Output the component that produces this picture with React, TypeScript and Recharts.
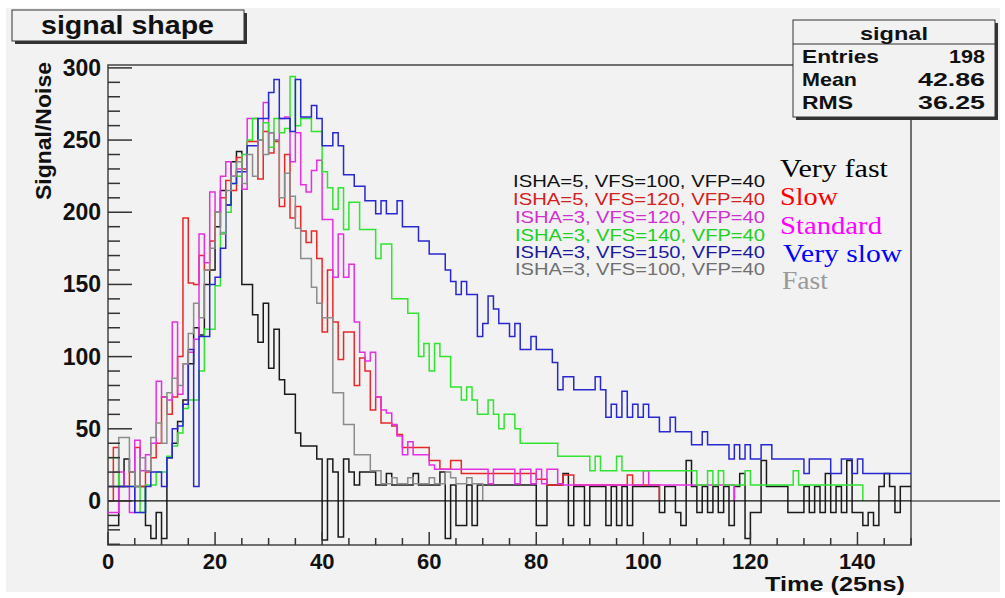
import React from "react";
import {
  ComposedChart,
  Line,
  XAxis,
  YAxis,
  ReferenceArea,
  ReferenceLine,
} from "recharts";

// bin edges of the time axis (25 ns samples)
const binEdges = [
  0, 1, 2, 3, 4, 5, 6, 7, 8, 9, 10, 11, 12, 13, 14, 15, 16, 17, 18, 19, 20, 21, 22, 23, 24, 25, 26, 27, 28, 29,
  30, 31, 32, 33, 34, 35, 36, 37, 38, 39, 40, 41, 42, 43, 44, 45, 46, 47, 48, 49, 50, 51, 52, 53, 54, 55, 56, 57, 58, 59,
  60, 61, 62, 63, 64, 65, 66, 67, 68, 69, 70, 71, 72, 73, 74, 75, 76, 77, 78, 79, 80, 81, 82, 83, 84, 85, 86, 87, 88, 89,
  90, 91, 92, 93, 94, 95, 96, 97, 98, 99, 100, 101, 102, 103, 104, 105, 106, 107, 108, 109, 110, 111, 112, 113, 114, 115, 116, 117, 118, 119,
  120, 121, 122, 123, 124, 125, 126, 127, 128, 129, 130, 131, 132, 133, 134, 135, 136, 137, 138, 139, 140, 141, 142, 143, 144, 145, 146, 147, 148, 149, 150,
];

// Very fast: ISHA=5, VFS=100, VFP=40
const veryFast = [
  -17, -17, 10, 29, 20, 10, 10, -17, -26, -8, -26, 30, 40, 55, 70, 95, 120, 115, 150, 160,
  190, 215, 205, 235, 242, 150, 150, 129, 110, 137, 92, 119, 84, 74, 74, 47, 38, 38, 38, 29,
  -27, 29, 20, -25, 29, 20, 11, 20, 20, 20, 11, 11, 19, 11, 11, 11, 11, 19, 11, 11,
  11, 11, 20, -26, 11, -17, -17, 11, -17, 11, 11, 11, 11, 11, 11, 11, 11, 11, 11, 11,
  -17, -17, 11, 11, 11, 19, -17, 10, 10, -17, 10, 10, 10, -17, 10, -17, 10, -17, 10, 10,
  10, 10, 10, -8, 10, 10, -8, -17, 28, 10, -8, 10, -8, 10, -8, 10, -17, 10, 19, -26,
  -8, -8, 28, 10, 10, 10, 10, -8, -8, -8, 10, -8, 10, -8, 19, -8, 10, -8, 28, -8,
  -8, -17, -8, -17, 10, 19, 10, -8, 10, 10,
];

// Slow: ISHA=5, VFS=120, VFP=40
const slow = [
  0, 37, 10, 10, 20, 37, 10, 20, 30, 40, 72, 60, 72, 100, 196, 151, 150, 170, 160, 180,
  200, 210, 222, 215, 238, 230, 249, 249, 223, 256, 241, 249, 204, 240, 196, 204, 187, 179, 187, 168,
  117, 160, 124, 98, 117, 117, 80, 99, 90, 63, 72, 54, 54, 52, 46, 37, 37, 37, 37, 37,
  28, 28, 22, 22, 28, 28, 19, 19, 19, 19, 19, 19, 19, 19, 19, 19, 19, 19, 19, 19,
  15, 15, 11, 11, 11, 18, 18, 11, 11, 11, 11, 11, 11, 11, 11, 11, 11, 18, 11, 11,
  11, 11, 11,
];

// Standard: ISHA=3, VFS=120, VFP=40
const standard = [
  -8, -8, 20, 10, -8, 42, 21, 32, 40, 83, 72, 70, 124, 74, 95, 103, 112, 185, 165, 214,
  200, 225, 235, 225, 230, 216, 265, 265, 250, 276, 255, 250, 265, 266, 235, 255, 219, 214, 229, 236,
  195, 195, 155, 185, 155, 164, 124, 103, 97, 103, 72, 63, 61, 53, 45, 32, 41, 32, 32, 32,
  25, 22, 22, 22, 22, 22, 22, 22, 22, 22, 22, 12, 22, 22, 22, 22, 12, 22, 22, 12,
  22, 12, 22, 22, 12, 11, 11, 11, 11, 11, 11, 11, 11, 11, 11, 11, 11, 11, 11, 11,
  21, 11, 11, 11, 11, 11, 11, 11, 11, 11, 11, 11, 11, 11, 11, 11, 11,
];

// ISHA=3, VFS=140, VFP=40 (green)
const vfs140 = [
  30, 30, 10, 10, 10, 10, -8, 11, 11, 20, 20, 31, 38, 47, 64, 70, 70, 90, 119, 119,
  149, 186, 200, 220, 225, 240, 250, 265, 250, 262, 245, 265, 255, 258, 294, 260, 265, 265, 256, 256,
  228, 217, 202, 217, 188, 207, 207, 188, 188, 188, 168, 178, 178, 140, 140, 140, 130, 130, 100, 109,
  90, 109, 100, 100, 79, 79, 70, 79, 70, 60, 60, 70, 60, 50, 60, 60, 50, 40, 40, 40,
  40, 40, 40, 40, 31, 31, 31, 31, 31, 31, 21, 31, 21, 21, 21, 31, 21, 21, 21, 21,
  21, 21, 21, 21, 21, 21, 21, 21, 21, 21, 11, 11, 21, 11, 21, 11, 11, 11, 11, 21,
  11, 11, 11, 11, 11, 11, 11, 11, 21, 11, 11, 11, 11, 11, 11, 11, 11, 11, 11, 11,
  11,
];

// Very slow: ISHA=3, VFS=150, VFP=40
const verySlow = [
  10, 10, 10, 10, 10, -8, -8, 10, 20, 20, 10, 30, 50, 52, 67, 105, 10, 114, 114, 150,
  155, 175, 205, 220, 228, 228, 246, 246, 265, 265, 283, 292, 265, 265, 256, 292, 266, 266, 274, 265,
  246, 246, 255, 246, 226, 226, 218, 218, 208, 208, 199, 208, 199, 199, 208, 190, 190, 190, 180, 180,
  171, 171, 171, 160, 152, 143, 152, 143, 143, 114, 123, 142, 133, 123, 123, 114, 123, 105, 105, 114,
  105, 105, 105, 96, 77, 86, 86, 77, 77, 77, 77, 86, 77, 58, 67, 58, 76, 58, 67, 58,
  67, 58, 58, 48, 48, 58, 48, 48, 48, 39, 39, 48, 39, 39, 39, 39, 29, 39, 29, 39,
  29, 29, 39, 39, 29, 29, 29, 29, 29, 29, 19, 29, 29, 29, 29, 19, 19, 29, 29, 19,
  29, 19, 19, 19, 19, 19, 19, 19, 19, 19,
];

// Fast: ISHA=3, VFS=100, VFP=40
const fast = [
  10, 20, 44, 44, 20, 10, 30, 21, 44, 54, 40, 75, 85, 80, 95, 116, 137, 127, 160, 175,
  200, 185, 215, 225, 235, 220, 240, 225, 250, 240, 255, 250, 210, 227, 211, 189, 168, 168, 148, 137,
  127, 127, 75, 75, 53, 53, 32, 32, 32, 21, 21, 12, 12, 16, 12, 12, 16, 12, 12, 12,
  16, 12, 12, 20, 16, 12, 12, 16, 12, 12,
];

const seriesKeys = ["veryFast", "slow", "standard", "vfs140", "verySlow", "fast"];
const seriesValues = [veryFast, slow, standard, vfs140, verySlow, fast];
const seriesColors = ["#1a1a1a", "#e82828", "#e430e4", "#30e430", "#2828d0", "#8c8c8c"];

const legendLines = [
  "ISHA=5, VFS=100, VFP=40",
  "ISHA=5, VFS=120, VFP=40",
  "ISHA=3, VFS=120, VFP=40",
  "ISHA=3, VFS=140, VFP=40",
  "ISHA=3, VFS=150, VFP=40",
  "ISHA=3, VFS=100, VFP=40",
];
const legendColors = ["#111111", "#d42020", "#d030d0", "#20d020", "#1a1aa0", "#707070"];
const speedNames = ["Very fast", "Slow", "Standard", "Very slow", "Fast"];
const speedColors = ["#000000", "#ff0000", "#ff00ff", "#0000ff", "#999999"];

const statLabels = ["Entries", "Mean", "RMS"];
const statValues = ["198", "42.86", "36.25"];

const xTicks = [0, 5, 10, 15, 20, 25, 30, 35, 40, 45, 50, 55, 60, 65, 70, 75, 80, 85, 90, 95, 100, 105, 110, 115, 120, 125, 130, 135, 140, 145, 150];
const xLabels = [0, 20, 40, 60, 80, 100, 120, 140];
const yTicks = [-30, -20, -10, 0, 10, 20, 30, 40, 50, 60, 70, 80, 90, 100, 110, 120, 130, 140, 150, 160, 170, 180, 190, 200, 210, 220, 230, 240, 250, 260, 270, 280, 290, 300];
const yLabels = [0, 50, 100, 150, 200, 250, 300];

// each histogram closes down to zero after its last bin
const data = binEdges.map((x) => {
  const row: Record<string, number | null> = { x };
  seriesKeys.forEach((key, i) => {
    const vals = seriesValues[i];
    if (x < vals.length) row[key] = vals[x];
    else if (x === vals.length) row[key] = vals.length >= 150 ? vals[vals.length - 1] : 0;
    else row[key] = null;
  });
  return row;
});

const SANS = "'Liberation Sans', Arial, Helvetica, sans-serif";
const SERIF = "'Liberation Serif', 'Times New Roman', serif";

const XTick = (props: any) => {
  const { x, y, payload } = props;
  const v = payload.value;
  const major = xLabels.includes(v);
  return (
    <g>
      <line x1={x} y1={y} x2={x} y2={y - (major ? 13 : 7)} stroke="#333" strokeWidth={1.5} />
      {major && (
        <text
          x={x}
          y={y + 24}
          textAnchor="middle"
          fontFamily={SANS}
          fontWeight="bold"
          fontSize={22}
          fill="#111"
        >
          {v}
        </text>
      )}
    </g>
  );
};

const YTick = (props: any) => {
  const { x, y, payload } = props;
  const v = payload.value;
  const major = yLabels.includes(v);
  return (
    <g>
      <line x1={x} y1={y} x2={x + (major ? 24 : 12)} y2={y} stroke="#333" strokeWidth={1.5} />
      {major && (
        <text
          x={x - 7}
          y={y + 8}
          textAnchor="end"
          fontFamily={SANS}
          fontWeight="bold"
          fontSize={23}
          fill="#111"
        >
          {v}
        </text>
      )}
    </g>
  );
};

export default function App() {
  return (
    <div style={{ position: "absolute", left: 0, top: 0, width: 1005, height: 598, background: "#fff" }}>
      <div style={{ position: "absolute", left: 6, top: 8, width: 994, height: 584, background: "#f2f2f2" }} />
      <div style={{ position: "absolute", left: 0, top: 0 }}>
        <ComposedChart
          width={1005}
          height={598}
          data={data}
          margin={{ top: 65, right: 94, bottom: 0, left: 48 }}
        >
          <XAxis
            type="number"
            dataKey="x"
            domain={[0, 150]}
            ticks={xTicks}
            interval={0}
            allowDataOverflow
            height={53}
            tickSize={0}
            tickMargin={0}
            axisLine={false}
            tickLine={false}
            tick={<XTick />}
          />
          <YAxis
            type="number"
            domain={[-30.5, 302]}
            ticks={yTicks}
            interval={0}
            allowDataOverflow
            width={60}
            tickSize={0}
            tickMargin={0}
            axisLine={false}
            tickLine={false}
            tick={<YTick />}
          />
          <ReferenceArea x1={0} x2={150} y1={-30.5} y2={302} fill="none" stroke="#444" strokeWidth={1.5} />
          {seriesKeys.map((key, i) => (
            <Line
              key={key}
              type="stepAfter"
              dataKey={key}
              stroke={seriesColors[i]}
              strokeWidth={1.5}
              dot={false}
              activeDot={false}
              connectNulls={false}
              isAnimationActive={false}
            />
          ))}
          <ReferenceLine y={0} ifOverflow="visible" stroke="#111" strokeWidth={1.2} />
        </ComposedChart>
      </div>
      <svg width={1005} height={598} style={{ position: "absolute", left: 0, top: 0, pointerEvents: "none" }}>
        {/* the zero line runs on past the frame to the pad edge */}
        <line x1={911} y1={501} x2={1000} y2={501} stroke="#111" strokeWidth={1.2} />

        {/* title box */}
        <rect x={15} y={13} width={232} height={31} fill="#333" />
        <rect x={12} y={10} width={232} height={31} fill="#f2f2f2" stroke="#333" strokeWidth={1} />
        <text x={41} y={34} fontFamily={SANS} fontWeight="bold" fontSize={25} fill="#111" textLength={173} lengthAdjust="spacingAndGlyphs">
          signal shape
        </text>

        {/* stats box */}
        <rect x={796} y={23} width={202} height={97} fill="#333" />
        <rect x={793} y={20} width={202} height={97} fill="#f2f2f2" stroke="#333" strokeWidth={1} />
        <line x1={793} y1={44} x2={995} y2={44} stroke="#333" strokeWidth={1} />
        <text x={894} y={40} textAnchor="middle" fontFamily={SANS} fontWeight="bold" fontSize={19} fill="#111" textLength={68} lengthAdjust="spacingAndGlyphs">
          signal
        </text>
        {statLabels.map((label, i) => (
          <g key={label}>
            <text x={802} y={63 + i * 23} fontFamily={SANS} fontWeight="bold" fontSize={19} fill="#111" textLength={[77, 55, 51][i]} lengthAdjust="spacingAndGlyphs">
              {label}
            </text>
            <text x={985} y={63 + i * 23} textAnchor="end" fontFamily={SANS} fontWeight="bold" fontSize={19} fill="#111" textLength={[36, 67, 67][i]} lengthAdjust="spacingAndGlyphs">
              {statValues[i]}
            </text>
          </g>
        ))}

        {/* legend of settings */}
        {legendLines.map((t, i) => (
          <text key={t + i} x={i < 2 ? 513 : 515} y={[187, 204.5, 222.5, 240.5, 257.5, 275][i]} fontFamily={SANS} fontSize={17} fill={legendColors[i]} textLength={i < 2 ? 252 : 250} lengthAdjust="spacingAndGlyphs">
            {t}
          </text>
        ))}
        {speedNames.map((t, i) => (
          <text key={t} x={[780, 780, 780, 783, 782][i]} y={[177, 205, 234, 262, 289][i]} fontFamily={SERIF} fontSize={26} fill={speedColors[i]} textLength={[108, 58, 102, 119, 46][i]} lengthAdjust="spacingAndGlyphs">
            {t}
          </text>
        ))}

        {/* axis titles */}
        <text x={51} y={62} transform="rotate(-90 51 62)" textAnchor="end" fontFamily={SANS} fontWeight="bold" fontSize={22} fill="#111" textLength={138} lengthAdjust="spacingAndGlyphs">
          Signal/Noise
        </text>
        <text x={905} y={591} textAnchor="end" fontFamily={SANS} fontWeight="bold" fontSize={21} fill="#111" textLength={140} lengthAdjust="spacingAndGlyphs">
          Time (25ns)
        </text>
      </svg>
    </div>
  );
}
